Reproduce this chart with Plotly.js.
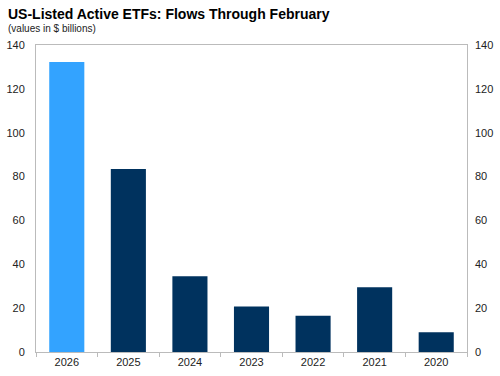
<!DOCTYPE html>
<html><head><meta charset="utf-8">
<script src="https://cdn.plot.ly/plotly-3.0.1.min.js"></script>
<style>html,body{margin:0;padding:0;background:#fff;}#c{width:500px;height:376px;}</style>
</head><body><div id="c"></div>
<script>
const years = ["2026","2025","2024","2023","2022","2021","2020"];
const flows = [132.2, 83.4, 34.6, 20.8, 16.5, 29.5, 9.0];
const barColors = ["#33A3FF","#00325E","#00325E","#00325E","#00325E","#00325E","#00325E"];
const yTicks = [0,20,40,60,80,100,120,140];

const font = {family:"Arial, Liberation Sans, sans-serif", size:11, color:"#222"};
const data = [
  {type:"bar", x:years, y:flows, marker:{color:barColors, line:{width:0}}, hoverinfo:"x+y", xaxis:"x", yaxis:"y"},
  {type:"bar", x:years, y:flows, marker:{color:"rgba(0,0,0,0)"}, hoverinfo:"skip", xaxis:"x", yaxis:"y2", showlegend:false}
];
const layout = {
  width:500, height:376,
  margin:{l:36, r:33, t:45, b:24},
  paper_bgcolor:"#fff", plot_bgcolor:"#fff",
  showlegend:false, bargap:0.43, barmode:"overlay",
  font:font,
  xaxis:{type:"category", showline:true, linecolor:"#BBBBBB", linewidth:1, mirror:true,
    ticks:"outside", tickson:"boundaries", ticklen:4, tickcolor:"#BBBBBB",
    tickfont:{family:font.family, size:11, color:"#222"}, showgrid:false, fixedrange:true},
  yaxis:{range:[0,140], tickvals:yTicks, showgrid:false, zeroline:false, showline:true, mirror:true,
    linecolor:"#BBBBBB", linewidth:1,
    ticks:"", tickfont:{family:font.family, size:11, color:"#222"}, ticklabelstandoff:8},
  yaxis2:{range:[0,140], tickvals:yTicks, overlaying:"y", side:"right", showgrid:false, zeroline:false,
    showline:false, ticks:"", tickfont:{family:font.family, size:11, color:"#222"}, ticklabelstandoff:7},
  annotations:[
    {text:"<b>US-Listed Active ETFs: Flows Through February</b>", xref:"paper", yref:"paper", x:-0.07, y:1, xanchor:"left", yanchor:"bottom",
     xshift:0, yshift:21, showarrow:false, font:{family:font.family, size:14, color:"#000"}},
    {text:"(values in $ billions)", xref:"paper", yref:"paper", x:-0.07, y:1, xanchor:"left", yanchor:"bottom",
     yshift:9, showarrow:false, font:{family:font.family, size:10, color:"#222"}}
  ]
};
Plotly.newPlot("c", data, layout, {displayModeBar:false, staticPlot:true});
</script></body></html>
